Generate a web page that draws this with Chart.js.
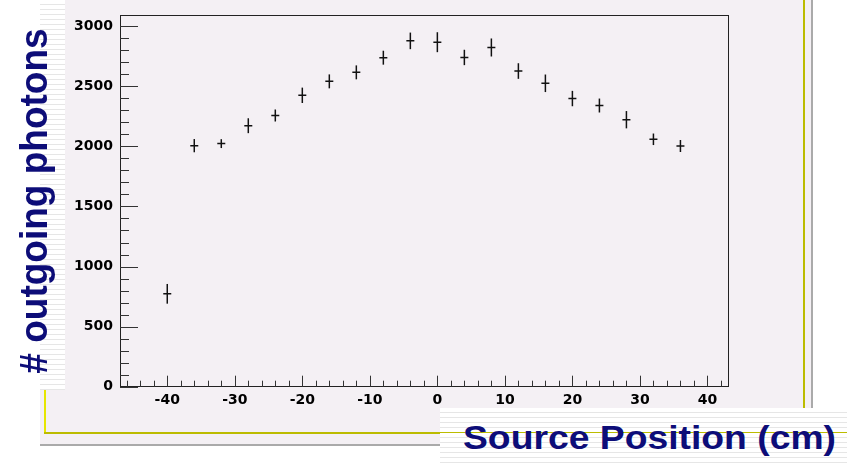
<!DOCTYPE html>
<html>
<head>
<meta charset="utf-8">
<script src="https://cdn.jsdelivr.net/npm/chart.js@4/dist/chart.umd.min.js"></script>
<style>
  html, body { margin: 0; padding: 0; background: #ffffff; }
  #stage { position: relative; width: 847px; height: 463px; overflow: hidden; background: #ffffff; }
  #pad { position: absolute; left: 40px; top: 0; width: 772px; height: 445px; background: #f4f0f4; }
  .line { position: absolute; }
  #chartWrap { position: absolute; left: 0; top: 0; width: 847px; height: 463px; }
  .striped {
    position: absolute; background-color: #ffffff;
    background-image: repeating-linear-gradient(to bottom, #ffffff 0px, #ffffff 4px, #e6e6e6 4px, #e6e6e6 5px);
  }
  .title { position: absolute; font-family: "Liberation Sans", Arial, sans-serif; font-weight: bold; color: #0d0d78; white-space: nowrap; }
  #ytitle { left: 34px; top: 201px; font-size: 37px; transform: translate(-50%, -50%) rotate(-90deg) scaleY(1.05); }
  #xtitle { left: 463px; top: 418px; font-size: 33px; line-height: 40px; transform-origin: left top; transform: scaleX(1.13); }
</style>
</head>
<body>
<div id="stage">
  <div id="pad"></div>
  <!-- slide frame around the pad -->
  <div class="line" style="left:44px;top:0;width:2px;height:434px;background:#e6e600"></div>
  <div class="line" style="left:44px;top:432px;width:762px;height:2px;background:#bcbc00"></div>
  <div class="line" style="left:803px;top:0;width:2px;height:434px;background:#bcbc00"></div>
  <div class="line" style="left:40px;top:444px;width:774px;height:2px;background:#aaaaaa"></div>
  <div class="line" style="left:811px;top:0;width:2px;height:446px;background:#aaaaaa"></div>
  <div id="chartWrap"><canvas id="c" width="847" height="463"></canvas></div>
  <!-- axis title boxes -->
  <div class="striped" style="left:40px;top:0;width:25px;height:390px"></div>
  <div class="striped" style="left:440px;top:408px;width:407px;height:55px"></div>
  <div class="line" style="left:440px;top:432px;width:407px;height:1px;background:#bcbc00"></div>
  <div class="title" id="ytitle"># outgoing photons</div>
  <div class="title" id="xtitle">Source Position (cm)</div>
</div>
<script>
// Source positions (cm) and measured outgoing photon counts with their errors
const positions = [-40, -36, -32, -28, -24, -20, -16, -12, -8, -4, 0, 4, 8, 12, 16, 20, 24, 28, 32, 36];
const photons   = [773, 2006, 2023, 2172, 2257, 2425, 2541, 2616, 2738, 2878, 2867, 2740, 2823, 2627, 2525, 2398, 2340, 2222, 2059, 2003];
const photonErr = [82, 55, 37, 62, 50, 64, 58, 58, 58, 69, 83, 64, 75, 65, 73, 64, 58, 72, 48, 50];

// Axis tick labels
const xTicks = [-40, -30, -20, -10, 0, 10, 20, 30, 40];
const yTicks = [0, 500, 1000, 1500, 2000, 2500, 3000];

const AREA = { left: 120, top: 13.5, right: 727.7, bottom: 386.7 };
const W = 847, H = 463;

// Vertical error bars for each point
const errorBars = {
  id: 'errorBars',
  afterDatasetsDraw(chart) {
    const { ctx, scales: { x, y } } = chart;
    ctx.save();
    ctx.strokeStyle = '#111111';
    ctx.lineWidth = 1.5;
    positions.forEach((p, i) => {
      const px = x.getPixelForValue(p);
      ctx.beginPath();
      ctx.moveTo(px, y.getPixelForValue(photons[i] - photonErr[i]));
      ctx.lineTo(px, y.getPixelForValue(photons[i] + photonErr[i]));
      ctx.stroke();
    });
    ctx.restore();
  }
};

// Frame box with inward major and minor tick marks
const frameTicks = {
  id: 'frameTicks',
  afterDraw(chart) {
    const { ctx, chartArea: a, scales: { x, y } } = chart;
    ctx.save();
    ctx.strokeStyle = '#222222';
    ctx.lineWidth = 1;
    ctx.strokeRect(Math.round(a.left) + 0.5, Math.round(a.top) + 0.5,
                   Math.round(a.right - a.left), Math.round(a.bottom - a.top));
    ctx.strokeStyle = '#333333';
    ctx.beginPath();
    for (let v = -46; v <= x.max; v += 2) {
      const px = Math.round(x.getPixelForValue(v)) + 0.5;
      const len = (v % 10 === 0) ? 11 : 6;
      ctx.moveTo(px, a.bottom);
      ctx.lineTo(px, a.bottom - len);
    }
    for (let v = 0; v <= y.max; v += 100) {
      const py = Math.round(y.getPixelForValue(v)) + 0.5;
      const len = (v % 500 === 0) ? 18 : 9;
      ctx.moveTo(a.left, py);
      ctx.lineTo(a.left + len, py);
    }
    ctx.stroke();
    ctx.restore();
  }
};

const tickFont = { family: '"DejaVu Sans", sans-serif', size: 14, weight: 'bold' };

new Chart(document.getElementById('c'), {
  type: 'scatter',
  data: {
    datasets: [{
      data: positions.map((p, i) => ({ x: p, y: photons[i] })),
      pointStyle: 'line',
      pointRadius: 4,
      pointHoverRadius: 4,
      borderColor: '#111111',
      backgroundColor: '#111111',
      pointBorderWidth: 1.5
    }]
  },
  options: {
    responsive: false,
    animation: false,
    events: [],
    layout: { padding: { left: 0, top: AREA.top, right: W - AREA.right, bottom: 0 } },
    plugins: { legend: { display: false }, tooltip: { enabled: false } },
    scales: {
      x: {
        type: 'linear', min: -47, max: 43,
        afterBuildTicks: s => { s.ticks = xTicks.map(v => ({ value: v })); },
        afterFit: s => { s.height = H - AREA.bottom; },
        grid: { display: false, drawTicks: false },
        border: { display: false },
        ticks: { font: tickFont, color: '#000000', padding: 5, maxRotation: 0, autoSkip: false,
                 callback: v => String(v) }
      },
      y: {
        type: 'linear', min: 0, max: 3090,
        afterBuildTicks: s => { s.ticks = yTicks.map(v => ({ value: v })); },
        afterFit: s => { s.width = AREA.left; },
        grid: { display: false, drawTicks: false },
        border: { display: false },
        ticks: { font: tickFont, color: '#000000', padding: 7, autoSkip: false,
                 callback: v => String(v) }
      }
    }
  },
  plugins: [errorBars, frameTicks]
});
</script>
</body>
</html>
